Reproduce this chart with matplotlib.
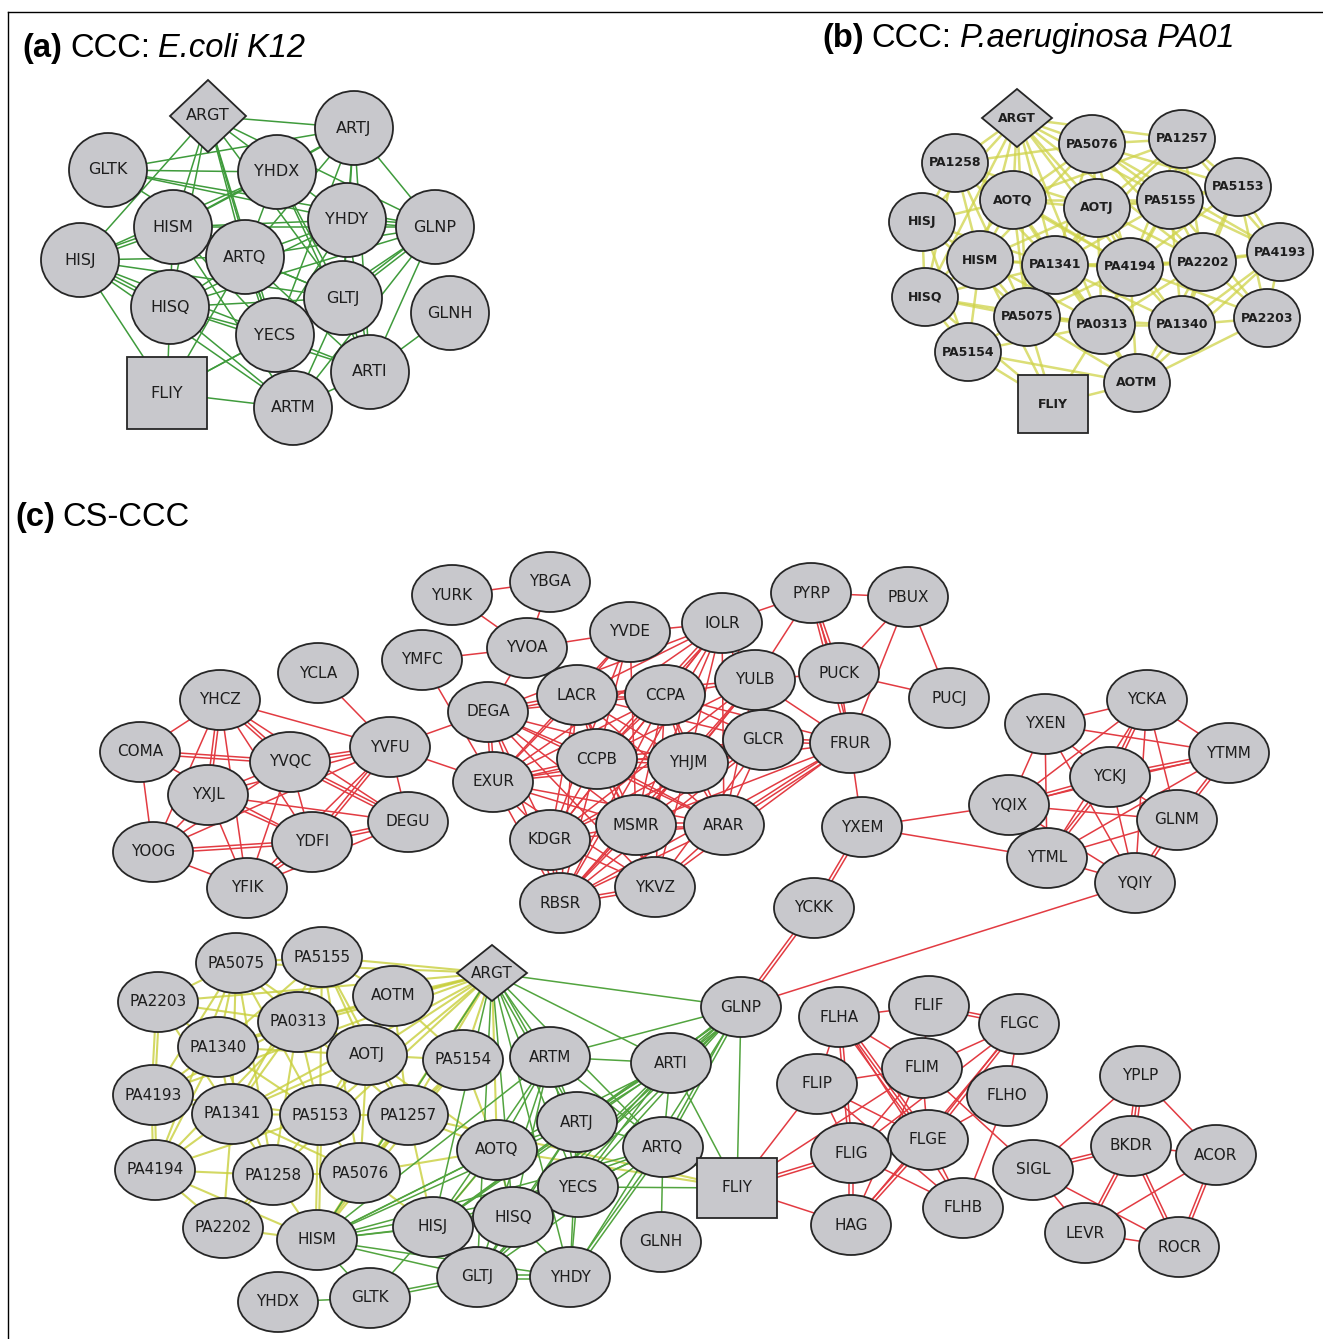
import numpy as np
import matplotlib.pyplot as plt
from matplotlib.patches import Ellipse, Polygon, Rectangle

# ---------------- panel (a): CCC E.coli K12 ----------------
a_names = ['ARGT', 'ARTJ', 'GLTK', 'YHDX', 'HISM', 'YHDY', 'GLNP', 'HISJ', 'ARTQ',
           'GLTJ', 'GLNH', 'HISQ', 'YECS', 'ARTI', 'FLIY', 'ARTM']
a_x = [208, 354, 108, 277, 173, 347, 435, 80, 245, 343, 450, 170, 275, 370, 167, 293]
a_y = [116, 128, 170, 172, 227, 220, 227, 260, 257, 298, 313, 307, 335, 372, 393, 408]
a_edges = ['ARGT-ARTJ', 'ARGT-HISJ', 'ARGT-HISM', 'ARGT-HISQ', 'ARGT-YECS', 'ARGT-GLTJ',
           'ARGT-ARTQ', 'ARGT-ARTM', 'ARGT-GLNP', 'ARGT-YHDY',
           'GLTK-YHDX', 'GLTK-YHDY', 'GLTK-ARTJ', 'GLTK-GLNP', 'GLTK-ARTQ',
           'YHDX-ARTJ', 'YHDX-HISM', 'YHDX-HISJ', 'YHDX-ARTQ', 'YHDX-GLTJ', 'YHDX-ARTI',
           'ARTJ-HISM', 'ARTJ-ARTQ', 'ARTJ-GLNP', 'ARTJ-YHDY', 'ARTJ-GLTJ', 'ARTJ-YECS', 'ARTJ-ARTI',
           'HISM-HISJ*2', 'HISM-HISQ', 'HISM-ARTQ', 'HISM-YHDY', 'HISM-GLNP', 'HISM-YECS',
           'HISM-ARTM', 'HISM-GLTJ',
           'HISJ-HISQ*2', 'HISJ-ARTQ', 'HISJ-FLIY', 'HISJ-YECS', 'HISJ-ARTM', 'HISJ-GLTJ',
           'YHDY-GLNP*2', 'YHDY-ARTQ', 'YHDY-GLTJ', 'YHDY-ARTI', 'YHDY-HISQ', 'YHDY-YECS',
           'GLNP-ARTQ', 'GLNP-GLTJ*2', 'GLNP-ARTI', 'GLNP-ARTM', 'GLNP-HISQ', 'GLNP-YECS',
           'ARTQ-HISQ', 'ARTQ-GLTJ', 'ARTQ-YECS', 'ARTQ-ARTI', 'ARTQ-ARTM', 'ARTQ-FLIY',
           'HISQ-YECS', 'HISQ-ARTM', 'HISQ-GLTJ', 'HISQ-FLIY', 'HISQ-ARTI',
           'GLTJ-YECS', 'GLTJ-ARTI', 'GLTJ-ARTM', 'GLNH-ARTI',
           'YECS-ARTM', 'YECS-ARTI', 'YECS-FLIY', 'FLIY-ARTM', 'FLIY-GLTJ', 'ARTI-ARTM']

# ---------------- panel (b): CCC P.aeruginosa PA01 ----------------
b_names = ['ARGT', 'PA5076', 'PA1257', 'PA1258', 'PA5153', 'AOTQ', 'AOTJ', 'PA5155',
           'HISJ', 'PA4193', 'HISM', 'PA1341', 'PA4194', 'PA2202', 'HISQ', 'PA5075',
           'PA0313', 'PA1340', 'PA2203', 'PA5154', 'AOTM', 'FLIY']
b_x = [1017, 1092, 1182, 955, 1238, 1013, 1097, 1170, 922, 1280, 980, 1055, 1130,
       1203, 925, 1027, 1102, 1182, 1267, 968, 1137, 1053]
b_y = [118, 144, 139, 163, 187, 200, 208, 200, 222, 252, 260, 265, 267, 262, 297,
       317, 325, 325, 318, 352, 383, 404]
b_edges = ['ARGT-PA5076', 'ARGT-PA1258', 'ARGT-AOTQ', 'ARGT-AOTJ', 'ARGT-HISJ', 'ARGT-HISM',
           'ARGT-PA1341', 'ARGT-PA5155', 'ARGT-PA4194', 'ARGT-PA2202', 'ARGT-PA5075',
           'ARGT-PA0313', 'ARGT-HISQ', 'ARGT-PA1257',
           'PA1258-AOTQ', 'PA1258-HISJ', 'PA1258-HISM', 'PA1258-PA5076', 'PA1258-AOTJ',
           'PA1258-PA1341', 'PA1258-PA4194', 'PA1258-PA5075', 'PA1258-HISQ',
           'PA5076-PA1257', 'PA5076-AOTQ', 'PA5076-AOTJ', 'PA5076-PA5155', 'PA5076-PA5153',
           'PA5076-PA1341', 'PA5076-PA4194', 'PA5076-PA2202', 'PA5076-PA4193', 'PA5076-HISM',
           'PA1257-PA5155', 'PA1257-PA5153', 'PA1257-AOTJ', 'PA1257-PA4194', 'PA1257-PA2202',
           'PA1257-PA4193', 'PA1257-AOTQ', 'PA1257-PA1341',
           'PA5153-PA5155', 'PA5153-PA4193', 'PA5153-PA2202', 'PA5153-PA2203', 'PA5153-PA1340',
           'PA5153-PA4194', 'PA5153-AOTJ',
           'AOTQ-AOTJ', 'AOTQ-HISJ', 'AOTQ-HISM', 'AOTQ-PA1341', 'AOTQ-PA4194', 'AOTQ-PA5075',
           'AOTQ-PA0313', 'AOTQ-HISQ', 'AOTQ-PA5155',
           'AOTJ-PA5155', 'AOTJ-PA1341', 'AOTJ-PA4194', 'AOTJ-PA2202', 'AOTJ-PA0313',
           'AOTJ-PA1340', 'AOTJ-PA5075', 'AOTJ-HISM',
           'PA5155-PA4194', 'PA5155-PA2202', 'PA5155-PA4193', 'PA5155-PA1340', 'PA5155-PA0313',
           'PA5155-PA2203', 'PA5155-PA1341',
           'HISJ-HISM', 'HISJ-HISQ', 'HISJ-PA1341', 'HISJ-PA5075', 'HISJ-PA5154',
           'PA4193-PA2202', 'PA4193-PA2203', 'PA4193-PA1340', 'PA4193-PA4194', 'PA4193-AOTM',
           'HISM-PA1341', 'HISM-HISQ', 'HISM-PA5075', 'HISM-PA0313', 'HISM-PA5154',
           'HISM-PA4194', 'HISM-FLIY',
           'PA1341-PA4194', 'PA1341-PA5075', 'PA1341-PA0313', 'PA1341-PA1340', 'PA1341-HISQ',
           'PA1341-AOTM', 'PA1341-PA2202',
           'PA4194-PA2202', 'PA4194-PA0313', 'PA4194-PA1340', 'PA4194-PA5075', 'PA4194-AOTM',
           'PA4194-PA2203',
           'PA2202-PA2203', 'PA2202-PA1340', 'PA2202-PA0313', 'PA2202-AOTM',
           'HISQ-PA5075', 'HISQ-PA5154', 'HISQ-FLIY', 'HISQ-PA0313',
           'PA5075-PA0313', 'PA5075-PA5154', 'PA5075-AOTM', 'PA5075-FLIY', 'PA5075-PA1340',
           'PA0313-PA1340', 'PA0313-AOTM', 'PA0313-PA5154', 'PA0313-FLIY',
           'PA1340-PA2203', 'PA1340-AOTM', 'PA2203-AOTM', 'PA5154-FLIY', 'PA5154-AOTM',
           'AOTM-FLIY']

# ---------------- panel (c): CS-CCC ----------------
c_names = ['YURK', 'YBGA', 'YMFC', 'YVOA', 'YVDE', 'IOLR', 'PYRP', 'PBUX', 'YCLA', 'YHCZ',
           'LACR', 'CCPA', 'YULB', 'PUCK', 'PUCJ', 'DEGA', 'COMA', 'YVFU', 'YVQC', 'CCPB',
           'YHJM', 'GLCR', 'FRUR', 'EXUR', 'YXJL', 'DEGU', 'YDFI', 'YOOG', 'YFIK', 'KDGR',
           'MSMR', 'ARAR', 'YKVZ', 'RBSR', 'YXEM', 'YCKK',
           'YXEN', 'YCKA', 'YTMM', 'YCKJ', 'YQIX', 'GLNM', 'YTML', 'YQIY',
           'PA5075', 'PA5155', 'PA2203', 'AOTM', 'ARGT', 'PA0313', 'PA1340', 'AOTJ', 'PA5154',
           'ARTM', 'PA4193', 'PA1341', 'PA5153', 'PA1257', 'ARTJ', 'AOTQ', 'PA4194', 'PA1258',
           'PA5076', 'YECS', 'HISQ', 'HISJ', 'PA2202', 'HISM', 'GLTJ', 'YHDY', 'YHDX', 'GLTK',
           'GLNP', 'ARTI', 'ARTQ', 'FLIY', 'GLNH',
           'FLHA', 'FLIF', 'FLGC', 'FLIM', 'FLIP', 'FLHO', 'YPLP', 'FLGE', 'FLIG', 'BKDR',
           'ACOR', 'SIGL', 'HAG', 'FLHB', 'LEVR', 'ROCR']
c_x = [452, 550, 422, 527, 630, 722, 811, 908, 318, 220,
       577, 665, 755, 839, 949, 488, 140, 390, 290, 597,
       688, 763, 850, 493, 208, 408, 312, 153, 247, 550,
       636, 724, 655, 560, 862, 814,
       1045, 1147, 1229, 1110, 1009, 1177, 1047, 1135,
       236, 322, 158, 393, 492, 298, 218, 367, 463,
       550, 153, 232, 320, 408, 577, 497, 155, 273,
       360, 578, 513, 433, 223, 317, 477, 570, 278, 370,
       741, 671, 663, 737, 661,
       839, 929, 1019, 922, 817, 1007, 1140, 928, 851, 1131,
       1216, 1033, 851, 963, 1085, 1179]
c_y = [595, 582, 660, 648, 632, 623, 593, 597, 673, 700,
       695, 695, 680, 673, 698, 712, 752, 747, 762, 759,
       763, 740, 743, 782, 795, 822, 842, 852, 888, 840,
       825, 825, 887, 903, 827, 908,
       724, 700, 753, 777, 805, 820, 858, 883,
       963, 957, 1002, 996, 973, 1022, 1047, 1055, 1060,
       1057, 1095, 1114, 1115, 1115, 1122, 1150, 1170, 1175,
       1173, 1187, 1217, 1227, 1228, 1240, 1277, 1277, 1302, 1298,
       1007, 1063, 1147, 1188, 1242,
       1017, 1006, 1024, 1068, 1084, 1096, 1076, 1140, 1153, 1146,
       1155, 1170, 1225, 1208, 1233, 1247]

c_red_edges = [
    'YCLA-YVFU',
    'YHCZ-COMA', 'YHCZ-YVQC*2', 'YHCZ-YXJL*2', 'YHCZ-YFIK', 'YHCZ-YDFI', 'YHCZ-YVFU',
    'YHCZ-DEGU', 'YHCZ-YOOG',
    'COMA-YVQC*2', 'COMA-YOOG', 'COMA-YDFI',
    'YVQC-YVFU*2', 'YVQC-YXJL', 'YVQC-YOOG', 'YVQC-YFIK', 'YVQC-YDFI', 'YVQC-DEGU*2',
    'YVFU-DEGU', 'YVFU-YDFI*2', 'YVFU-YXJL', 'YVFU-YFIK', 'YVFU-DEGA', 'YVFU-EXUR', 'YVFU-YOOG',
    'YXJL-YOOG', 'YXJL-YFIK', 'YXJL-YDFI', 'YXJL-DEGU',
    'YOOG-YDFI*2', 'YOOG-YFIK', 'YFIK-YDFI*2', 'YFIK-DEGU', 'YDFI-DEGU*2',
    'YURK-YBGA', 'YURK-YVOA', 'YBGA-YVOA', 'YMFC-YVOA', 'YMFC-EXUR',
    'YVOA-YVDE', 'YVOA-DEGA', 'YVOA-LACR',
    'YVDE-IOLR', 'YVDE-LACR', 'YVDE-CCPB', 'YVDE-MSMR', 'YVDE-EXUR', 'YVDE-KDGR',
    'IOLR-PYRP', 'IOLR-LACR', 'IOLR-CCPA', 'IOLR-YULB', 'IOLR-CCPB*2', 'IOLR-YHJM',
    'IOLR-GLCR', 'IOLR-MSMR', 'IOLR-KDGR', 'IOLR-RBSR', 'IOLR-DEGA', 'IOLR-EXUR', 'IOLR-ARAR',
    'PYRP-PBUX', 'PYRP-PUCK*2', 'PYRP-YULB', 'PYRP-FRUR*2',
    'PBUX-PUCK', 'PBUX-FRUR', 'PBUX-PUCJ', 'PUCK-PUCJ', 'PUCK-FRUR', 'PUCK-YULB',
    'FRUR-YXEM', 'FRUR-GLCR*2', 'FRUR-YULB', 'FRUR-YHJM', 'FRUR-ARAR*2', 'FRUR-MSMR',
    'FRUR-RBSR', 'FRUR-YKVZ', 'FRUR-CCPA',
    'DEGA-LACR*2', 'DEGA-CCPA', 'DEGA-EXUR*2', 'DEGA-CCPB', 'DEGA-YHJM', 'DEGA-KDGR',
    'DEGA-MSMR', 'DEGA-RBSR', 'DEGA-YKVZ', 'DEGA-ARAR',
    'EXUR-LACR', 'EXUR-CCPA', 'EXUR-CCPB*2', 'EXUR-YHJM', 'EXUR-KDGR', 'EXUR-MSMR',
    'EXUR-ARAR', 'EXUR-RBSR', 'EXUR-YKVZ', 'EXUR-GLCR',
    'LACR-CCPA*2', 'LACR-CCPB', 'LACR-YHJM', 'LACR-KDGR', 'LACR-MSMR', 'LACR-RBSR',
    'LACR-YKVZ', 'LACR-ARAR', 'LACR-GLCR', 'LACR-YULB',
    'CCPA-YULB', 'CCPA-CCPB', 'CCPA-YHJM*2', 'CCPA-GLCR', 'CCPA-KDGR', 'CCPA-MSMR',
    'CCPA-ARAR', 'CCPA-RBSR', 'CCPA-YKVZ',
    'YULB-GLCR', 'YULB-YHJM', 'YULB-CCPB', 'YULB-MSMR', 'YULB-KDGR', 'YULB-ARAR', 'YULB-RBSR',
    'GLCR-YHJM', 'GLCR-CCPB', 'GLCR-MSMR', 'GLCR-ARAR', 'GLCR-KDGR', 'GLCR-YKVZ', 'GLCR-RBSR',
    'CCPB-YHJM*2', 'CCPB-KDGR', 'CCPB-MSMR', 'CCPB-ARAR', 'CCPB-RBSR', 'CCPB-YKVZ',
    'YHJM-MSMR', 'YHJM-ARAR', 'YHJM-KDGR', 'YHJM-RBSR', 'YHJM-YKVZ',
    'KDGR-MSMR', 'KDGR-RBSR*2', 'KDGR-YKVZ', 'KDGR-ARAR',
    'MSMR-ARAR*2', 'MSMR-RBSR', 'MSMR-YKVZ', 'ARAR-RBSR', 'ARAR-YKVZ', 'RBSR-YKVZ*2',
    'YXEM-YQIX', 'YXEM-YTML', 'YXEM-YCKK*2', 'YCKK-GLNP*2', 'GLNP-YQIY',
    'YXEN-YCKA', 'YXEN-YTMM', 'YXEN-YQIX', 'YXEN-YTML', 'YXEN-YQIY', 'YXEN-YCKJ',
    'YCKA-YQIX', 'YCKA-YCKJ*2', 'YCKA-YTMM', 'YCKA-GLNM', 'YCKA-YTML', 'YCKA-YQIY',
    'YTMM-YCKJ*2', 'YTMM-GLNM*2', 'YTMM-YTML', 'YTMM-YQIX',
    'YCKJ-YQIX*2', 'YCKJ-YTML*2', 'YCKJ-YQIY', 'YCKJ-GLNM',
    'YQIX-GLNM', 'YQIX-YTML', 'YQIX-YQIY', 'GLNM-YTML', 'GLNM-YQIY*2', 'YTML-YQIY',
    'FLIY-FLIG*2', 'FLIY-HAG', 'FLIY-FLIM', 'FLIY-FLIP',
    'FLHA-FLIF', 'FLHA-FLIP', 'FLHA-FLIG*2', 'FLHA-FLGE*3', 'FLHA-FLHB', 'FLHA-FLIM',
    'FLIF-FLGC*2', 'FLIF-FLIM',
    'FLGC-FLIM', 'FLGC-FLHO', 'FLGC-FLGE*2', 'FLGC-FLIG', 'FLGC-HAG',
    'FLIM-FLIP', 'FLIM-FLGE', 'FLIM-FLIG', 'FLIM-SIGL', 'FLIM-HAG',
    'FLIP-FLIG', 'FLIP-FLGE', 'FLIP-FLHB', 'FLHO-FLHB', 'FLHO-FLGE',
    'FLGE-FLIG', 'FLGE-HAG*2', 'FLGE-FLHB', 'FLIG-HAG*2', 'FLIG-FLHB',
    'SIGL-YPLP', 'SIGL-BKDR*2', 'SIGL-LEVR', 'SIGL-ROCR',
    'YPLP-BKDR*3', 'YPLP-ACOR', 'BKDR-ACOR', 'BKDR-LEVR*2', 'BKDR-ROCR*2',
    'ACOR-LEVR', 'ACOR-ROCR*2', 'LEVR-ROCR']

c_yellow_edges = [
    'ARGT-PA5075', 'ARGT-PA5155', 'ARGT-AOTM', 'ARGT-PA0313', 'ARGT-PA1340', 'ARGT-AOTJ',
    'ARGT-PA5154', 'ARGT-PA1341', 'ARGT-PA5153', 'ARGT-PA1257', 'ARGT-PA2203', 'ARGT-PA4193',
    'ARGT-HISM', 'ARGT-AOTQ', 'ARGT-PA1258', 'ARGT-PA5076',
    'PA5075-PA5155', 'PA5075-PA2203', 'PA5075-PA0313', 'PA5075-PA1340', 'PA5075-PA4193',
    'PA5075-PA1341', 'PA5075-PA5153', 'PA5075-PA1258', 'PA5075-PA4194', 'PA5075-AOTJ',
    'PA5155-AOTM', 'PA5155-PA0313', 'PA5155-AOTJ', 'PA5155-PA1340', 'PA5155-PA5153',
    'PA5155-PA1257', 'PA5155-PA5076', 'PA5155-PA1341',
    'PA2203-PA1340', 'PA2203-PA4193*2', 'PA2203-PA0313', 'PA2203-PA1341',
    'AOTM-PA0313', 'AOTM-AOTJ', 'AOTM-PA1257', 'AOTM-PA5153', 'AOTM-PA5154',
    'PA0313-PA1340', 'PA0313-AOTJ', 'PA0313-PA1341', 'PA0313-PA5153', 'PA0313-PA1257',
    'PA0313-PA1258', 'PA0313-PA4194', 'PA0313-PA4193',
    'PA1340-PA4193', 'PA1340-PA1341', 'PA1340-PA5153', 'PA1340-PA4194', 'PA1340-PA1258',
    'PA1340-AOTJ',
    'AOTJ-PA5154', 'AOTJ-PA1257', 'AOTJ-PA5153', 'AOTJ-PA5076', 'AOTJ-PA1341', 'AOTJ-AOTQ',
    'PA5154-PA1257', 'PA5154-AOTQ', 'PA5154-PA5076', 'PA5154-HISM',
    'PA4193-PA1341', 'PA4193-PA4194*2', 'PA4193-PA5153',
    'PA1341-PA5153', 'PA1341-PA4194', 'PA1341-PA1258', 'PA1341-PA2202', 'PA1341-PA5076',
    'PA5153-PA1257', 'PA5153-PA1258', 'PA5153-PA5076', 'PA5153-HISM*2', 'PA5153-PA4194',
    'PA1257-PA5076', 'PA1257-AOTQ', 'PA1257-HISM', 'PA1257-HISJ',
    'PA4194-PA1258', 'PA4194-PA2202', 'PA4194-HISM',
    'PA1258-PA5076', 'PA1258-PA2202*2', 'PA1258-HISM',
    'PA5076-HISM', 'PA5076-HISJ', 'PA5076-AOTQ', 'PA2202-HISM',
    'AOTQ-HISJ', 'AOTQ-HISQ', 'HISJ-HISQ', 'FLIY-AOTQ', 'FLIY-PA1257']

c_green_edges = [
    'ARGT-GLNP', 'ARGT-ARTM', 'ARGT-ARTI', 'ARGT-ARTJ*2', 'ARGT-ARTQ', 'ARGT-YECS',
    'ARGT-HISQ', 'ARGT-HISJ', 'ARGT-GLTJ', 'ARGT-YHDY', 'ARGT-HISM',
    'GLNP-ARTM', 'GLNP-ARTI*3', 'GLNP-ARTQ*2', 'GLNP-FLIY', 'GLNP-ARTJ', 'GLNP-YECS',
    'GLNP-HISQ*2', 'GLNP-GLTJ', 'GLNP-YHDY', 'GLNP-HISJ',
    'ARTM-ARTJ', 'ARTM-ARTQ', 'ARTM-ARTI', 'ARTM-HISJ', 'ARTM-HISM', 'ARTM-HISQ',
    'ARTM-YECS', 'ARTM-AOTQ', 'ARTM-GLTJ',
    'ARTI-ARTJ*2', 'ARTI-ARTQ', 'ARTI-FLIY', 'ARTI-YECS', 'ARTI-HISQ', 'ARTI-HISJ',
    'ARTI-HISM', 'ARTI-GLTJ',
    'ARTJ-AOTQ', 'ARTJ-ARTQ', 'ARTJ-YECS', 'ARTJ-HISQ', 'ARTJ-HISJ', 'ARTJ-HISM',
    'ARTJ-GLTJ', 'ARTJ-YHDY',
    'ARTQ-YECS', 'ARTQ-HISQ', 'ARTQ-HISJ', 'ARTQ-HISM', 'ARTQ-GLNH', 'ARTQ-FLIY',
    'ARTQ-YHDY*2', 'ARTQ-GLTJ',
    'YECS-HISQ', 'YECS-HISJ', 'YECS-HISM', 'YECS-GLTJ', 'YECS-YHDY', 'YECS-FLIY',
    'HISQ-HISJ', 'HISQ-HISM', 'HISQ-GLTJ', 'HISQ-YHDY',
    'HISJ-HISM', 'HISJ-GLTJ', 'HISJ-GLTK', 'HISM-GLTJ', 'HISM-GLTK', 'HISM-YHDY',
    'GLTJ-YHDY*2', 'GLTJ-GLTK*2', 'GLTK-YHDX',
    'AOTQ-HISQ', 'AOTQ-HISJ', 'AOTQ-HISM']

W, H = 1323, 1339
fig = plt.figure(figsize=(W / 100, H / 100), dpi=100)
ax = fig.add_axes([0, 0, 1, 1])
ax.set_xlim(0, W)
ax.set_ylim(H, 0)
ax.axis('off')

NODE_FACE = '#c8c8cc'
NODE_EDGE = '#262626'


def draw_edges(names, xs, ys, edges, color, lw, alpha=1.0, gap=3.2):
    pos = {n: (x, y) for n, x, y in zip(names, xs, ys)}
    for e in edges:
        pair, _, k = e.partition('*')
        k = int(k) if k else 1
        a, b = pair.split('-')
        (x0, y0), (x1, y1) = pos[a], pos[b]
        d = np.hypot(x1 - x0, y1 - y0)
        nx, ny = -(y1 - y0) / d, (x1 - x0) / d
        for i in range(k):
            o = (i - (k - 1) / 2) * gap
            ax.plot([x0 + nx * o, x1 + nx * o], [y0 + ny * o, y1 + ny * o],
                    color=color, lw=lw, alpha=alpha, zorder=1, solid_capstyle='butt')


def draw_nodes(names, xs, ys, rx, ry, dia, sq, fs, weight='normal'):
    for n, x, y in zip(names, xs, ys):
        if n == 'ARGT':
            p = Polygon([(x - dia[0], y), (x, y - dia[1]), (x + dia[0], y), (x, y + dia[1])],
                        closed=True)
        elif n == 'FLIY':
            p = Rectangle((x - sq[0], y - sq[1]), 2 * sq[0], 2 * sq[1])
        else:
            p = Ellipse((x, y), 2 * rx, 2 * ry)
        p.set_facecolor(NODE_FACE)
        p.set_edgecolor(NODE_EDGE)
        p.set_linewidth(1.3)
        p.set_zorder(3)
        ax.add_patch(p)
        ax.text(x, y, n, ha='center', va='center', fontsize=fs, color='#1e1e1e',
                fontweight=weight, zorder=4)


# edges
draw_edges(a_names, a_x, a_y, a_edges, '#3f9b3c', 1.1)
draw_edges(b_names, b_x, b_y, b_edges, '#cfd34a', 1.8, alpha=0.75)
draw_edges(c_names, c_x, c_y, c_red_edges, '#e23b42', 1.1)
draw_edges(c_names, c_x, c_y, c_yellow_edges, '#c8cf3c', 1.5, alpha=0.8)
draw_edges(c_names, c_x, c_y, c_green_edges, '#52a43f', 1.1)

# nodes
draw_nodes(a_names, a_x, a_y, 39, 37, (38, 36), (40, 36), 11.5)
draw_nodes(b_names, b_x, b_y, 33, 29, (35, 29), (35, 29), 9, weight='bold')
draw_nodes(c_names, c_x, c_y, 40, 30, (35, 28), (40, 30), 11)

# frame lines
ax.plot([8, W], [12, 12], color='black', lw=1.0, zorder=5)
ax.plot([8, 8], [12, H], color='black', lw=1.0, zorder=5)


# panel titles built from consecutive runs
def title_runs(x, y, parts, size=23.5):
    r = fig.canvas.get_renderer()
    for s, w, st in parts:
        t = ax.text(x, y, s, fontsize=size, fontweight=w, style=st,
                    family='Liberation Sans', va='baseline', ha='left', zorder=6)
        x += t.get_window_extent(renderer=r).width + 8


title_runs(22, 57, [('(a)', 'bold', 'normal'), ('CCC:', 'normal', 'normal'),
                    ('E.coli K12', 'normal', 'italic')])
title_runs(822, 47, [('(b)', 'bold', 'normal'), ('CCC:', 'normal', 'normal'),
                     ('P.aeruginosa PA01', 'normal', 'italic')], size=23.5)
title_runs(15, 526, [('(c)', 'bold', 'normal'), ('CS-CCC', 'normal', 'normal')])

fig.savefig('out.png', dpi=100)
